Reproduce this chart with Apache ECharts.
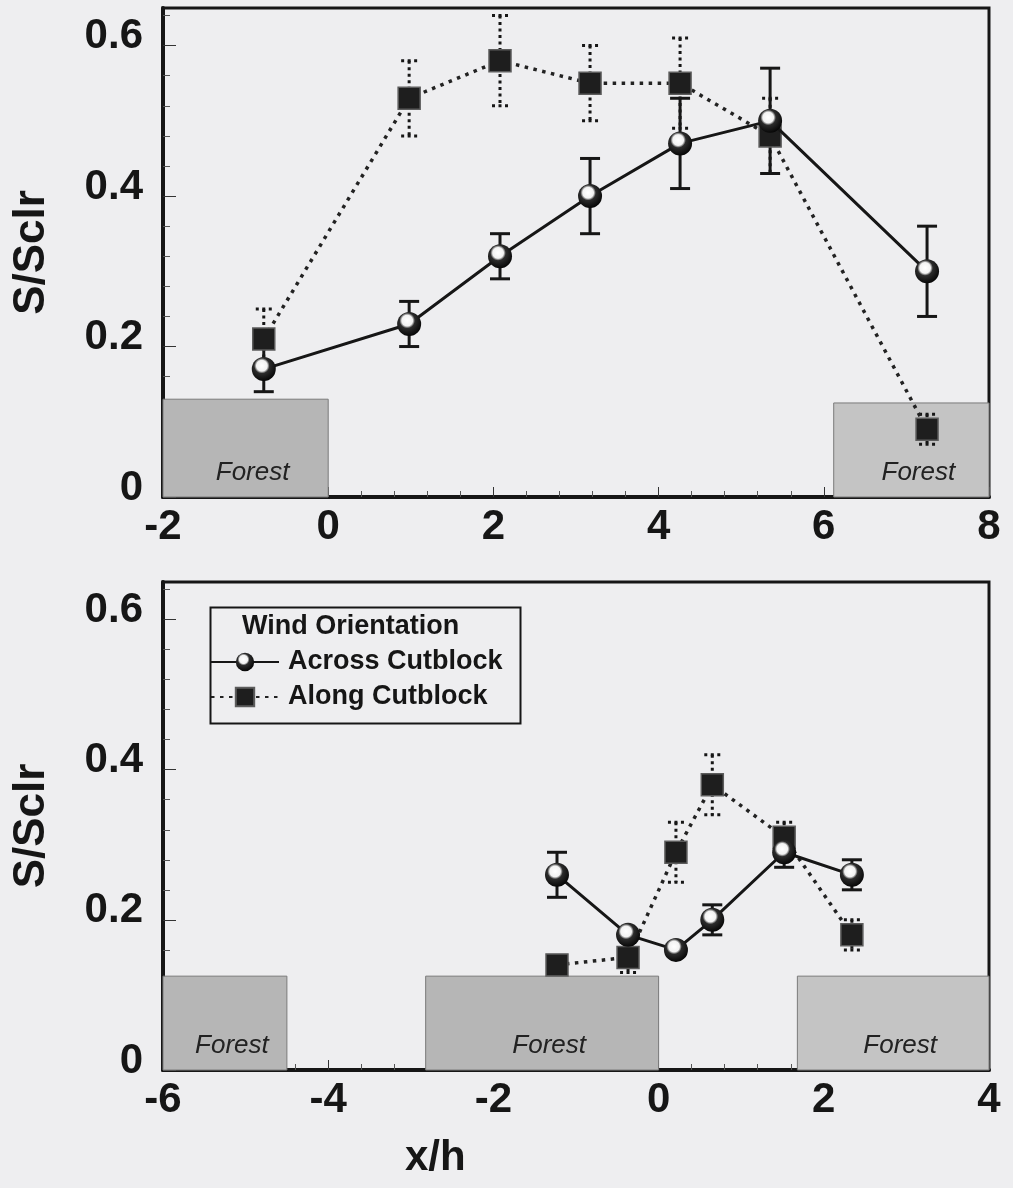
<!DOCTYPE html>
<html>
<head>
<meta charset="utf-8">
<title>S/Sclr vs x/h</title>
<script src="https://cdn.jsdelivr.net/npm/echarts@6/dist/echarts.min.js"></script>
<style>
  html, body { margin: 0; padding: 0; background: #eeeef0; }
  #chart { width: 1013px; height: 1188px; }
</style>
</head>
<body>
<div id="chart"></div>
<script>
// ---- Upper panel: long cutblock (x/h from -2 to 8) ----
const topX          = [-0.78, 0.98, 2.08, 3.17, 4.26, 5.35, 7.25];
const topAcross     = [0.17, 0.23, 0.32, 0.40, 0.47, 0.50, 0.30];
const topAcrossErr  = [0.03, 0.03, 0.03, 0.05, 0.06, 0.07, 0.06];
const topAlong      = [0.21, 0.53, 0.58, 0.55, 0.55, 0.48, 0.09];
const topAlongErr   = [0.04, 0.05, 0.06, 0.05, 0.06, 0.05, 0.02];
// forest strips: [start x/h, end x/h, height]
const topForest     = [[-2, 0, 0.13], [6.12, 8, 0.125]];

// ---- Lower panel: short cutblock (x/h from -6 to 4) ----
const botX          = [-1.23, -0.37, 0.21, 0.65, 1.52, 2.34];
const botAcross     = [0.26, 0.18, 0.16, 0.20, 0.29, 0.26];
const botAcrossErr  = [0.03, 0.00, 0.00, 0.02, 0.02, 0.02];
const botAlong      = [0.14, 0.15, 0.29, 0.38, 0.31, 0.18];
const botAlongErr   = [0.00, 0.02, 0.04, 0.04, 0.02, 0.02];
const botForest     = [[-6, -4.5, 0.125], [-2.82, 0, 0.125], [1.68, 4, 0.125]];

// ---- Axes ----
const yTickLabels   = [0, 0.2, 0.4, 0.6];
const yMinorTicks   = [0.04, 0.08, 0.12, 0.16, 0.24, 0.28, 0.32, 0.36, 0.44, 0.48, 0.52, 0.56, 0.64];
const yMax          = 0.65;
const topXRange     = [-2, 8];
const botXRange     = [-6, 4];
const xStep         = 2;
const seriesNames   = ['Across Cutblock', 'Along Cutblock'];
const forestLabel   = 'Forest';

const FONT = '"Liberation Sans", Arial, Helvetica, sans-serif';
const INK = '#161616';

// shaded ball used for the across-cutblock markers
const sphere = {
  type: 'radial', x: 0.42, y: 0.36, r: 0.7,
  colorStops: [
    { offset: 0, color: '#ffffff' },
    { offset: 0.32, color: '#f2f2f2' },
    { offset: 0.46, color: '#2c2c2c' },
    { offset: 1, color: '#000000' }
  ]
};

const grids = [
  { left: 163, top: 8, width: 826, height: 489 },
  { left: 163, top: 582, width: 826, height: 488 }
];

function zip(xs, ys, es) {
  return xs.map((x, i) => es ? [x, ys[i], es[i]] : [x, ys[i]]);
}

function errorBarRenderer(dotted, capHalf, width) {
  return function (params, api) {
    const x = api.value(0), y = api.value(1), e = api.value(2);
    if (!(e > 0)) return null;
    const hi = api.coord([x, y + e]);
    const lo = api.coord([x, y - e]);
    const style = {
      stroke: INK, lineWidth: width, fill: null,
      lineDash: dotted ? [3, 3.5] : null
    };
    return {
      type: 'group',
      children: [
        { type: 'line', shape: { x1: hi[0], y1: hi[1], x2: lo[0], y2: lo[1] }, style },
        { type: 'line', shape: { x1: hi[0] - capHalf, y1: hi[1], x2: hi[0] + capHalf, y2: hi[1] }, style },
        { type: 'line', shape: { x1: lo[0] - capHalf, y1: lo[1], x2: lo[0] + capHalf, y2: lo[1] }, style }
      ]
    };
  };
}

function forestAreas(list, lighterLast) {
  return list.map((f, i) => {
    const light = lighterLast && i === list.length - 1;
    return [
      { xAxis: f[0], yAxis: 0, itemStyle: { color: light ? '#c4c4c4' : '#b6b6b6', borderColor: '#7a7a7a', borderWidth: 1 } },
      { xAxis: f[1], yAxis: f[2] }
    ];
  });
}

const xAxes = [], yAxes = [], series = [];

[[topXRange, topX, topAcross, topAcrossErr, topAlong, topAlongErr, topForest],
 [botXRange, botX, botAcross, botAcrossErr, botAlong, botAlongErr, botForest]].forEach((p, gi) => {
  const [range, xs, acr, acrE, alo, aloE, forest] = p;
  xAxes.push({
    gridIndex: gi, type: 'value', min: range[0], max: range[1], interval: xStep,
    axisLine: { show: true, onZero: false, lineStyle: { color: INK, width: 4 } },
    axisTick: { show: true, inside: true, length: 10, lineStyle: { color: '#333', width: 1 } },
    minorTick: { show: true, splitNumber: 5, length: 6, lineStyle: { color: '#555', width: 1 } },
    splitLine: { show: false },
    axisLabel: { fontFamily: FONT, fontWeight: 'bold', fontSize: 42, color: INK, margin: 9 }
  });
  yAxes.push({
    gridIndex: gi, type: 'value', min: 0, max: yMax,
    name: 'S/Sclr', nameLocation: 'middle', nameRotate: 90, nameGap: 109,
    nameTextStyle: { fontFamily: FONT, fontWeight: 'bold', fontSize: 44, color: INK },
    axisLine: { show: true, onZero: false, lineStyle: { color: INK, width: 4 } },
    axisTick: { show: true, inside: true, length: 13, customValues: yTickLabels, lineStyle: { color: '#333', width: 1 } },
    splitLine: { show: false },
    axisLabel: {
      customValues: yTickLabels, fontFamily: FONT, fontWeight: 'bold', fontSize: 42, color: INK,
      margin: 20, verticalAlign: 'bottom', lineHeight: 18,
      formatter: v => (v === 0 ? '0' : v.toFixed(1))
    }
  });
  yAxes.push({
    gridIndex: gi, type: 'value', min: 0, max: yMax, position: 'left',
    axisLine: { show: false, onZero: false },
    axisTick: { show: true, inside: true, length: 7, customValues: yMinorTicks, lineStyle: { color: '#555', width: 1 } },
    axisLabel: { show: false },
    splitLine: { show: false }
  });
  const yi = gi * 2;
  series.push({
    type: 'line', xAxisIndex: gi, yAxisIndex: yi, data: [], z: 1, silent: true,
    markArea: {
      silent: true,
      label: {
        show: true, position: 'insideBottom', distance: 12, offset: [7, 0],
        formatter: forestLabel, fontFamily: FONT, fontStyle: 'italic', fontSize: 26, color: '#222'
      },
      data: forestAreas(forest, true)
    }
  });
  series.push({
    type: 'custom', xAxisIndex: gi, yAxisIndex: yi, z: 2, silent: true,
    renderItem: errorBarRenderer(true, 8, 3), data: zip(xs, alo, aloE)
  });
  series.push({
    type: 'custom', xAxisIndex: gi, yAxisIndex: yi, z: 3, silent: true,
    renderItem: errorBarRenderer(false, 10, 3), data: zip(xs, acr, acrE)
  });
  series.push({
    name: seriesNames[1], type: 'line', xAxisIndex: gi, yAxisIndex: yi, z: 4,
    data: zip(xs, alo), symbol: 'rect', symbolSize: 22,
    lineStyle: { color: '#222', width: 3.5, type: [3.5, 5.5] },
    itemStyle: { color: '#1e1e1e', borderColor: '#5c5c5c', borderWidth: 1.5 },
    animation: false
  });
  series.push({
    name: seriesNames[0], type: 'line', xAxisIndex: gi, yAxisIndex: yi, z: 5,
    data: zip(xs, acr), symbol: 'circle', symbolSize: 24,
    lineStyle: { color: INK, width: 3 },
    itemStyle: { color: sphere, borderWidth: 0 },
    animation: false
  });
});

const chart = echarts.init(document.getElementById('chart'), null, { renderer: 'canvas' });
chart.setOption({
  backgroundColor: '#eeeef0',
  animation: false,
  grid: grids.map(g => Object.assign({ show: true, borderColor: INK, borderWidth: 3, backgroundColor: 'transparent' }, g)),
  xAxis: xAxes,
  yAxis: yAxes,
  legend: {
    data: seriesNames,
    orient: 'vertical', left: 210, top: 647, padding: 0,
    itemWidth: 68, itemHeight: 23, itemGap: 5,
    textStyle: { fontFamily: FONT, fontWeight: 'bold', fontSize: 27, color: INK, lineHeight: 30, padding: [0, 0, 0, 4] },
    selectedMode: false
  },
  graphic: [
    { type: 'rect', left: 208, top: 605, z: 10, shape: { width: 310, height: 116 },
      style: { fill: null, stroke: INK, lineWidth: 2 } },
    { type: 'text', left: 242, top: 613, z: 10,
      style: { text: 'Wind Orientation', font: 'bold 27px ' + FONT, fill: INK } },
    { type: 'text', left: 405, top: 1137, z: 10,
      style: { text: 'x/h', font: 'bold 42px ' + FONT, fill: INK } }
  ],
  series: series
});
</script>
</body>
</html>
